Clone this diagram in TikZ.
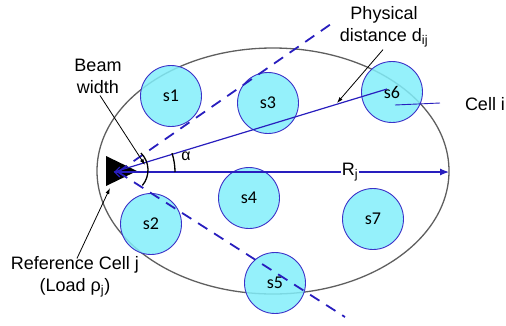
\documentclass[tikz,border=0pt]{standalone}
\usepackage{fontspec}
\setmainfont{Liberation Sans}
\newfontfamily\calib{Carlito}
\usetikzlibrary{arrows.meta}
\definecolor{lineblue}{RGB}{40,30,190}
\definecolor{cellfill}{RGB}{130,238,250}
\definecolor{cellborder}{RGB}{60,50,200}
\definecolor{ringgray}{RGB}{95,95,95}
\begin{document}
\begin{tikzpicture}[x=1pt,y=-1pt,
  cell/.style={circle,draw=cellborder,line width=0.9pt,fill=cellfill,fill opacity=0.85,text opacity=1,minimum size=61pt,inner sep=0pt,font=\calib\fontsize{18}{20}\selectfont},
  lbl/.style={font=\fontsize{18}{22}\selectfont,align=center,inner sep=0pt},
  blueline/.style={draw=lineblue,line width=1.2pt},
  beamline/.style={draw=lineblue,line width=1.8pt,dash pattern=on 11pt off 8pt},
  leader/.style={draw=black,line width=0.8pt,-{Latex[length=6pt,width=4pt]}},
  bluearc/.style={draw=black,line width=1.3pt}
]
\useasboundingbox (0,0) rectangle (506,325);
% coverage ellipse
\draw[ringgray,line width=1.3pt] (273,171) ellipse [x radius=176pt, y radius=123pt];
% cells
\node[cell] (s1) at (171,96) {s1};
\node[cell] (s3) at (268,103) {s3};
\node[cell] (s6) at (392,92) {s6};
\node[cell] (s4) at (249,198) {s4};
\node[cell] (s2) at (151,224) {s2};
\node[cell] (s7) at (373,219) {s7};
\node[cell] (s5) at (275,283) {s5};
% base station
\fill (106,156) -- (137,171) -- (106,186) -- cycle;
\coordinate (ap) at (114,172);
\coordinate (refpt) at (110,188);
\coordinate (bend) at (449,172);
\coordinate (s6pt) at (387,89);
\coordinate (upend) at (331,24);
\coordinate (loend) at (345,317);
\coordinate (dstart) at (118,172);
\coordinate (s6in) at (395,105);
\coordinate (ciend) at (440,103);
\coordinate (pdpt) at (337,103);
\coordinate (bwpt) at (145,165);
% beam edges
\draw[beamline] (dstart) -- (upend);
\draw[beamline] (dstart) -- (loend);
% R_j
\draw[blueline,{Straight Barb[length=5pt,width=10pt]}-{Latex[length=9pt,width=7pt]}] (ap) -- (bend);
\node[lbl,fill=white,inner sep=1pt] (rj) at (350,172) {R\textsubscript{j}};
% line to cell i
\draw[blueline] (ap) -- (s6pt);
\draw[draw=lineblue,line width=0.9pt] (s6in) -- (ciend);
\node[lbl] (celli) at (485,104) {Cell i};
% arcs
\draw[bluearc] ([shift={(45:24pt)}]124,170) arc[start angle=45,end angle=-40,radius=24pt];
\draw[bluearc] ([shift={(0:61pt)}]ap) arc[start angle=0,end angle=18,radius=61pt];
\node[font=\fontsize{16}{18}\selectfont,inner sep=0pt] (alpha) at (186,156) {α};
% labels
\node[lbl] (pd) at (384,27) {Physical\\distance d\textsubscript{ij}};
\draw[leader] ([xshift=-1pt,yshift=-2pt]pd.south) -- (pdpt);
\node[lbl] (bw) at (98,76) {Beam\\width};
\draw[leader] ([xshift=2pt,yshift=-2pt]bw.south) -- (bwpt);
\node[lbl] (rc) at (75,277) {Reference Cell j\\(Load ρ\textsubscript{j})};
\draw[leader] ([xshift=2pt,yshift=-2pt]rc.north) -- (refpt);
\end{tikzpicture}
\end{document}
